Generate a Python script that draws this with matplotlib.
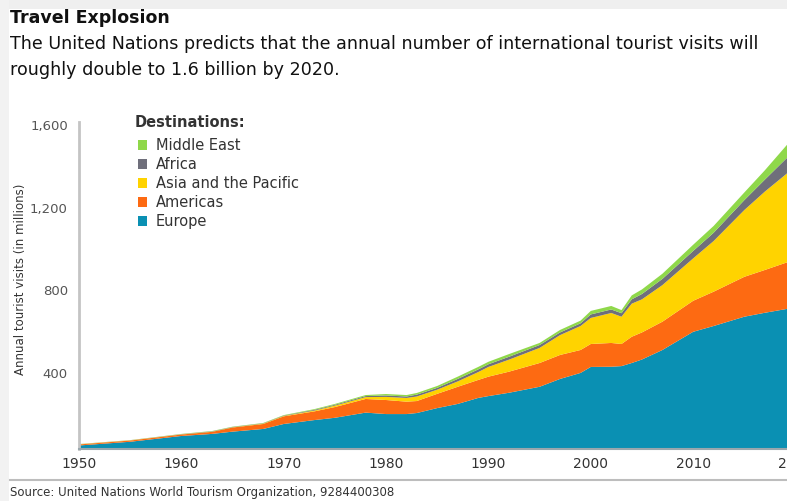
import matplotlib.pyplot as plt
from matplotlib.patches import Rectangle
from matplotlib.ticker import FixedLocator

years = [1950, 1955, 1960, 1963, 1965, 1968, 1970, 1973, 1975, 1978, 1980,
         1982, 1983, 1985, 1987, 1989, 1990, 1992, 1995, 1997, 1999, 2000,
         2002, 2003, 2004, 2005, 2007, 2010, 2012, 2015, 2017, 2020]

europe = [50, 68, 96, 106, 117, 130, 154, 173, 184, 209, 202,
          202, 207, 231, 251, 280, 289, 305, 334, 372, 401, 430,
          431, 434, 449, 466, 512, 600, 628, 673, 692, 718]
americas = [5, 6, 7, 10, 20, 24, 37, 42, 52, 66, 68,
            60, 58, 69, 83, 87, 94, 102, 115, 116, 111, 111,
            115, 107, 127, 131, 137, 150, 166, 193, 207, 232]
asia_pacific = [1, 1, 1, 1, 1, 2, 2, 4, 7, 9, 15,
                18, 22, 20, 26, 38, 47, 58, 73, 96, 116, 126,
                145, 132, 160, 160, 177, 205, 245, 323, 379, 450]
africa = [0.5, 0.5, 1, 1.5, 1.5, 1.5, 2, 3.5, 4, 5, 7,
          7, 9, 9, 12, 13, 13, 14, 14, 13, 13, 17,
          17, 17, 21, 26, 30, 36, 40, 48, 58, 82]
middle_east = [0.5, 0.5, 1, 1.5, 1.5, 1.5, 2, 3.5, 4, 5, 7,
               7, 8, 9, 11, 12, 12, 13, 10, 12, 13, 17,
               17, 15, 19, 22, 25, 30, 33, 37, 45, 70]

series = [europe, americas, asia_pacific, africa, middle_east]
names = ["Europe", "Americas", "Asia and the Pacific", "Africa", "Middle East"]
colors = ["#0a90b3", "#fd6a12", "#ffd300", "#6f6f7b", "#8fd84a"]

y_ticks = [400, 800, 1200, 1600]
y_labels = ["400", "800", "1,200", "1,600"]
x_ticks = [1950, 1960, 1970, 1980, 1990, 2000, 2010, 2020]

font = "DejaVu Sans"

fig = plt.figure(figsize=(7.87, 5.01), dpi=100)
fig.patch.set_facecolor("white")

# light grey frame strips of the original screenshot
fig.patches.append(Rectangle((0, 0.982), 1, 0.018, transform=fig.transFigure,
                             facecolor="#efefef", edgecolor="none", zorder=0))
fig.patches.append(Rectangle((0, 0), 0.011, 1, transform=fig.transFigure,
                             facecolor="#f2f2f2", edgecolor="none", zorder=0))

ax = fig.add_axes([0.1004, 0.1038, 0.9104, 0.6527])
ax.stackplot(years, *series, colors=colors, linewidth=0)
ax.set_xlim(1950, 2020)
ax.set_ylim(33, 1615)

ax.yaxis.set_major_locator(FixedLocator(y_ticks))
ax.set_yticklabels(y_labels, family=font, fontsize=9.5, color="#555555")
ax.set_xticks(x_ticks)
ax.set_xticklabels([str(x) for x in x_ticks], family=font, fontsize=10,
                   color="#333333")
ax.tick_params(length=0, pad=8)
ax.tick_params(axis="x", pad=6)
for s in ["top", "right"]:
    ax.spines[s].set_visible(False)
ax.spines["left"].set_color("#c4c4c4")
ax.spines["left"].set_linewidth(2)
ax.spines["bottom"].set_color("#9aa7ad")
ax.spines["bottom"].set_linewidth(1.5)
ax.set_ylabel("Annual tourist visits (in millions)", family=font,
              fontsize=8.5, color="#333333")
ax.yaxis.set_label_coords(-0.072, 0.52)

# legend drawn as a block of colored squares and labels
ax.text(0.078, 0.998, "Destinations:", transform=ax.transAxes, family=font,
        fontsize=10.5, fontweight="bold", color="#333333", va="center")
for i, k in enumerate(range(len(names) - 1, -1, -1)):
    yy = 0.929 - i * 0.058
    ax.add_patch(Rectangle((0.083, yy - 0.016), 0.012, 0.032,
                           transform=ax.transAxes, facecolor=colors[k],
                           edgecolor="none", clip_on=False))
    ax.text(0.107, yy, names[k], transform=ax.transAxes, family=font,
            fontsize=10.5, color="#333333", va="center")

fig.text(0.013, 0.965, "Travel Explosion", family=font, fontsize=12.5,
         fontweight="bold", color="#111111", va="center")
fig.text(0.013, 0.912, "The United Nations predicts that the annual number of "
         "international tourist visits will", family=font, fontsize=12.6,
         color="#111111", va="center")
fig.text(0.013, 0.860, "roughly double to 1.6 billion by 2020.", family=font,
         fontsize=12.6, color="#111111", va="center")

fig.add_artist(plt.Line2D([0.013, 1], [0.042, 0.042], color="#bdbdbd",
                          linewidth=1.5))
fig.text(0.013, 0.016, "Source: United Nations World Tourism Organization, 9284400308",
         family=font, fontsize=8.5, color="#333333", va="center")

fig.savefig("out.png", dpi=100)
